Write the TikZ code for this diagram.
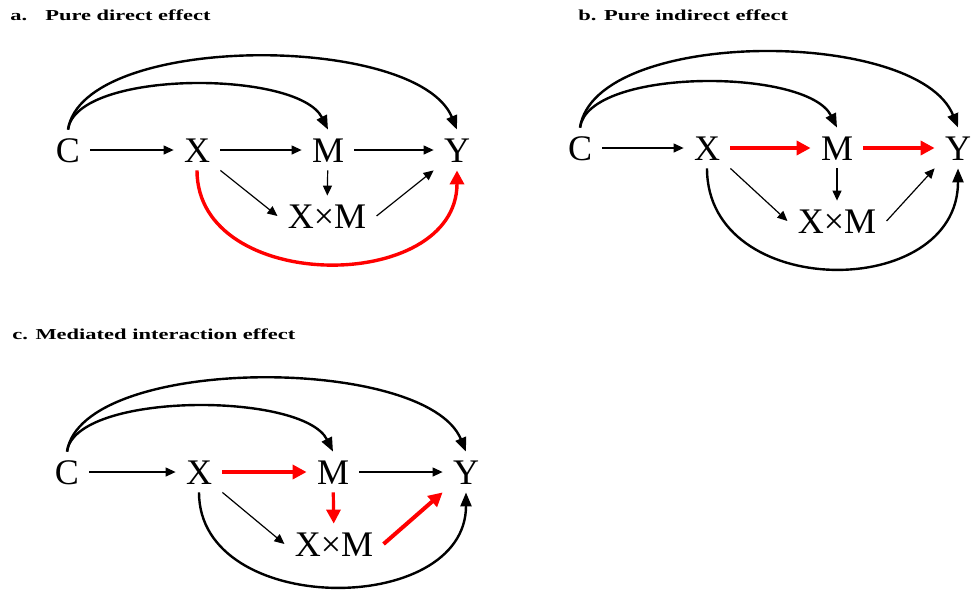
\documentclass[tikz,border=0pt]{standalone}
\usepackage{fontspec}
\setmainfont{Liberation Serif}
\usepackage{graphicx}
\usetikzlibrary{arrows.meta}

\tikzset{
  var/.style={font=\fontsize{18}{20}\selectfont, text height=12pt, text depth=0pt, inner xsep=5pt, inner ysep=4pt},
  arrthin/.style={-{Triangle[length=5pt,width=4.5pt]}, line width=0.6pt},
  arrarc/.style={-{Triangle[length=7pt,width=5.5pt]}, line width=1.2pt},
  arrred/.style={-{Triangle[length=7pt,width=7pt]}, line width=2.4pt, red},
  ttl/.style={anchor=base west, font=\fontsize{7.6}{9}\selectfont\bfseries, inner sep=0pt}
}

\begin{document}
\begin{tikzpicture}[x=0.5pt,y=-0.5pt]
\useasboundingbox (0,0) rectangle (972,590);
% ---- a. pure direct effect ----
\node[ttl] (ta) at (10,20) {\scalebox{1.48}[1]{a.\hspace{0.8em}Pure direct effect}};
\node[var] (Ca) at (68,150) {C};
\node[var] (Xa) at (197,150) {X};
\node[var] (Ma) at (328,150) {M};
\node[var] (Ya) at (457,150) {Y};
\node[var] (XMa) at (327,216) {X×M};
\draw[arrthin] (Ca) -- (Xa);
\draw[arrthin] (Xa) -- (Ma);
\draw[arrthin] (Ma) -- (Ya);
\draw[arrthin] (Ma) -- (XMa);
\draw[arrthin] (Xa.south east) -- (XMa.west);
\draw[arrthin] (XMa.east) -- (Ya.south west);
\draw[arrarc] (Ca.north) .. controls +(8,-60) and +(-30,-60) .. (Ma.north);
\draw[arrarc] (Ca.north) .. controls +(15,-97) and +(-40,-97) .. (Ya.north);
\draw[arrred, line width=1.7pt] (Xa.south) .. controls +(0,124) and +(0,124) .. (Ya.south);
% ---- b. pure indirect effect ----
\node[ttl] (tb) at (578,20) {\scalebox{1.48}[1]{b. Pure indirect effect}};
\node[var] (Cb) at (580,148) {C};
\node[var] (Xb) at (707,148) {X};
\node[var] (Mb) at (837,148) {M};
\node[var] (Yb) at (958,148) {Y};
\node[var] (XMb) at (837,221) {X×M};
\draw[arrthin] (Cb) -- (Xb);
\draw[arrred] (Xb) -- (Mb);
\draw[arrred] (Mb) -- (Yb);
\draw[arrthin] (Mb) -- (XMb);
\draw[arrthin] (Xb.south east) -- (XMb.west);
\draw[arrthin] (XMb.east) -- (Yb.south west);
\draw[arrarc] (Cb.north) .. controls +(8,-60) and +(-30,-60) .. (Mb.north);
\draw[arrarc] (Cb.north) .. controls +(15,-100) and +(-40,-100) .. (Yb.north);
\draw[arrarc] (Xb.south) .. controls +(0,133) and +(0,133) .. (Yb.south);
% ---- c. mediated interaction effect ----
\node[ttl] (tc) at (12,339) {\scalebox{1.48}[1]{c. Mediated interaction effect}};
\node[var] (Cc) at (67,472) {C};
\node[var] (Xc) at (199,472) {X};
\node[var] (Mc) at (333,472) {M};
\node[var] (Yc) at (466,472) {Y};
\node[var] (XMc) at (334,544) {X×M};
\draw[arrthin] (Cc) -- (Xc);
\draw[arrred, line width=2pt] (Xc) -- (Mc);
\draw[arrthin] (Mc) -- (Yc);
\draw[arrred, line width=1.6pt] (Mc) -- (XMc);
\draw[arrthin] (Xc.south east) -- (XMc.west);
\draw[arrred, line width=2pt] (XMc.east) -- (Yc.south west);
\draw[arrarc] (Cc.north) .. controls +(8,-60) and +(-30,-60) .. (Mc.north);
\draw[arrarc] (Cc.north) .. controls +(15,-97) and +(-40,-97) .. (Yc.north);
\draw[arrarc] (Xc.south) .. controls +(0,125) and +(0,125) .. (Yc.south);
\end{tikzpicture}
\end{document}
